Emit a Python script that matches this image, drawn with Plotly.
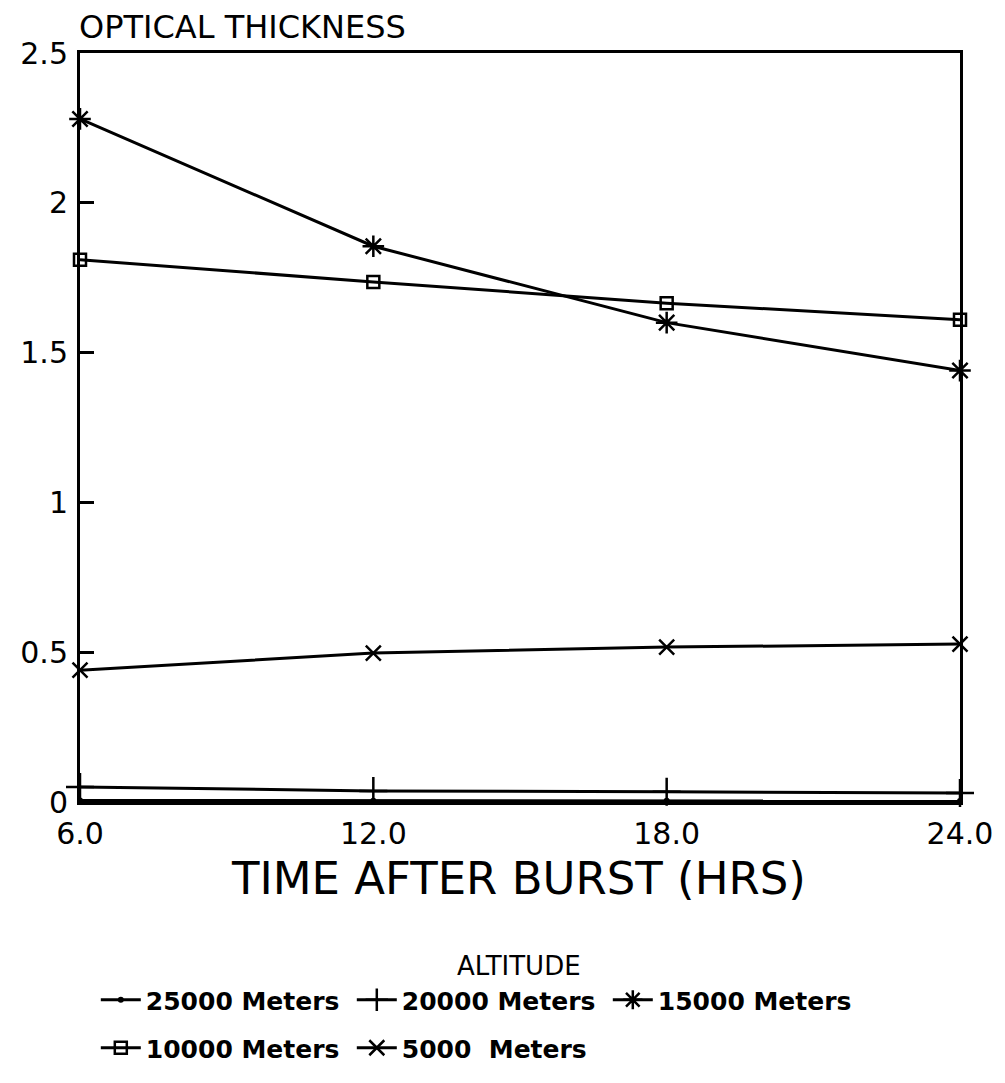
import plotly.graph_objects as go

hours = [6, 12, 18, 24]
x_tick_text = ["6.0", "12.0", "18.0", "24.0"]
y_tick_vals = [0, 0.5, 1, 1.5, 2, 2.5]
y_tick_text = ["0", "0.5", "1", "1.5", "2", "2.5"]

alt_25000 = [0.005, 0.004, 0.004, 0.003]
alt_20000 = [0.05, 0.037, 0.034, 0.03]
alt_15000 = [2.28, 1.855, 1.60, 1.44]
alt_10000 = [1.81, 1.736, 1.665, 1.61]
alt_5000 = [0.44, 0.497, 0.517, 0.527]

names = ["25000 Meters", "20000 Meters", "15000 Meters", "10000 Meters", "5000  Meters"]

# page has an 8px body margin; target pixel positions are given in page coordinates
OFF = 8
W, H = 1005 - OFF, 1083 - OFF
L, R, T, B = 74 - OFF, 40, 53 - OFF, 289 - OFF
PH = H - T - B
PW = W - L - R

def py(pix):
    return 1 - ((pix - OFF) - T) / PH

def px(pix):
    return ((pix - OFF) - L) / PW

fig = go.Figure()
series = [
    (alt_25000, names[0], dict(symbol="circle", size=6, color="black"), "legend"),
    (alt_20000, names[1], dict(symbol="cross-thin", size=20, line=dict(color="black", width=2.5)), "legend"),
    (alt_15000, names[2], dict(symbol="asterisk-open", size=18, line=dict(color="black", width=2.5)), "legend"),
    (alt_10000, names[3], dict(symbol="square-open", size=12, color="black", line=dict(color="black", width=2.5)), "legend2"),
    (alt_5000, names[4], dict(symbol="x-thin", size=15, line=dict(color="black", width=2.5)), "legend2"),
]
for vals, name, mk, lg in series:
    fig.add_trace(go.Scatter(
        x=hours, y=vals, name=name, mode="lines+markers",
        line=dict(color="black", width=3), marker=mk,
        cliponaxis=False, legend=lg,
    ))

tick_font = dict(family="DejaVu Sans", size=30, color="black")
leg_font = dict(family="DejaVu Sans", size=25, color="black", weight="bold")

fig.update_layout(
    width=W, height=H,
    margin=dict(l=L, r=R, t=T, b=B),
    paper_bgcolor="white", plot_bgcolor="white",
    xaxis=dict(range=[6, 24], tickvals=hours, ticktext=x_tick_text, showgrid=False,
               zeroline=False, showline=True, linecolor="black", linewidth=3, mirror=True,
               ticks="", tickfont=tick_font, ticklabelstandoff=3),
    yaxis=dict(range=[0, 2.5], tickvals=y_tick_vals, ticktext=y_tick_text, showgrid=False,
               zeroline=False, showline=True, linecolor="black", linewidth=3, mirror=True,
               ticks="inside", ticklen=14, tickwidth=3, tickcolor="black",
               tickfont=tick_font, ticklabelstandoff=3),
    legend=dict(orientation="h", x=px(90), xanchor="left", y=py(1000), yanchor="middle",
                font=leg_font, entrywidth=201, entrywidthmode="pixels",
                itemwidth=40, bgcolor="rgba(0,0,0,0)"),
    legend2=dict(orientation="h", x=px(90), xanchor="left", y=py(1048), yanchor="middle",
                 font=leg_font, entrywidth=201, entrywidthmode="pixels",
                 itemwidth=40, bgcolor="rgba(0,0,0,0)"),
    showlegend=True,
)

fig.add_annotation(text="OPTICAL THICKNESS", xref="paper", yref="paper",
                   x=px(71), y=py(27), xanchor="left", yanchor="middle", showarrow=False,
                   font=dict(family="DejaVu Sans", size=32, color="black"))
fig.add_annotation(text="TIME AFTER BURST (HRS)", xref="paper", yref="paper",
                   x=px(518), y=py(878), xanchor="center", yanchor="middle", showarrow=False,
                   font=dict(family="DejaVu Sans", size=45, color="black"))
fig.add_annotation(text="ALTITUDE", xref="paper", yref="paper",
                   x=px(518), y=py(966), xanchor="center", yanchor="middle", showarrow=False,
                   font=dict(family="DejaVu Sans", size=26, color="black"))

fig.write_html("out.html")
